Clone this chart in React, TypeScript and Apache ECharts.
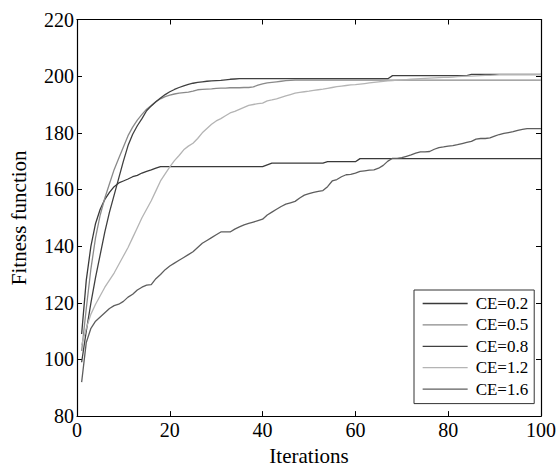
import React, { useEffect, useRef } from "react";
import * as echarts from "echarts";

const seriesNames = ["CE=0.2", "CE=0.5", "CE=0.8", "CE=1.2", "CE=1.6"];

// iterations 1..100
const ce02 = [
  109, 128, 140, 148, 153, 156.5, 159, 161, 162.3, 163,
  163.7, 164.5, 165, 165.8, 166.4, 166.9, 167.5, 168.1, 168.1, 168.1,
  168.1, 168.1, 168.1, 168.1, 168.1, 168.1, 168.1, 168.1, 168.1, 168.1,
  168.1, 168.1, 168.1, 168.1, 168.1, 168.1, 168.1, 168.1, 168.1, 168.1,
  168.7, 169.3, 169.3, 169.3, 169.3, 169.3, 169.3, 169.3, 169.3, 169.3,
  169.3, 169.3, 169.3, 169.8, 169.8, 169.8, 169.8, 169.8, 169.8, 169.8,
  170.9, 170.9, 170.9, 170.9, 170.9, 170.9, 170.9, 170.9, 170.9, 170.9,
  170.9, 170.9, 170.9, 170.9, 170.9, 170.9, 170.9, 170.9, 170.9, 170.9,
  170.9, 170.9, 170.9, 170.9, 170.9, 170.9, 170.9, 170.9, 170.9, 170.9,
  170.9, 170.9, 170.9, 170.9, 170.9, 170.9, 170.9, 170.9, 170.9, 170.9,
];

const ce05 = [
  103, 118, 132, 143, 151, 157, 162, 167, 171, 175,
  179, 182, 184.5, 186.5, 188.3, 189.6, 191, 192, 192.8, 193.3,
  193.7, 194, 194.2, 194.4, 194.7, 195.2, 195.3, 195.4, 195.5, 195.7,
  195.8, 195.8, 195.9, 195.9, 195.9, 196, 196, 196.2, 196.8, 197.3,
  197.6, 197.8, 198, 198.2, 198.4, 198.5, 198.6, 198.6, 198.6, 198.6,
  198.6, 198.6, 198.6, 198.6, 198.6, 198.6, 198.6, 198.6, 198.6, 198.6,
  198.6, 198.6, 198.6, 198.6, 198.6, 198.6, 198.6, 198.6, 198.6, 198.6,
  198.6, 198.6, 198.6, 198.6, 198.6, 198.6, 198.6, 198.6, 198.6, 198.6,
  198.6, 198.6, 198.6, 198.6, 198.6, 198.6, 198.6, 198.6, 198.6, 198.6,
  198.6, 198.6, 198.6, 198.6, 198.6, 198.6, 198.6, 198.6, 198.6, 198.6,
];

const ce08 = [
  99, 110, 120, 129, 137, 145, 152, 158, 164, 170,
  175.5, 179.5, 182.5, 185, 187.8, 189.5, 191, 192.3, 193.5, 194.5,
  195.3, 196, 196.6, 197.1, 197.5, 197.8, 198, 198.2, 198.3, 198.4,
  198.5, 198.7, 198.9, 199, 199.1, 199.1, 199.1, 199.1, 199.1, 199.1,
  199.1, 199.1, 199.1, 199.1, 199.1, 199.1, 199.1, 199.1, 199.1, 199.1,
  199.1, 199.1, 199.1, 199.1, 199.1, 199.1, 199.1, 199.1, 199.1, 199.1,
  199.1, 199.1, 199.1, 199.1, 199.1, 199.1, 199.1, 200.2, 200.2, 200.2,
  200.2, 200.2, 200.2, 200.2, 200.2, 200.2, 200.2, 200.2, 200.2, 200.2,
  200.2, 200.2, 200.2, 200.2, 200.6, 200.6, 200.6, 200.6, 200.6, 200.6,
  200.6, 200.6, 200.6, 200.6, 200.6, 200.6, 200.6, 200.6, 200.6, 200.6,
];

const ce12 = [
  105, 111, 116, 119.5, 122.5, 125.5, 128, 130.5, 133.5, 136.5,
  139.5, 143, 146.5, 150, 153, 156, 159.5, 163, 165.5, 168,
  170.2, 172, 174, 175.3, 176.3, 178, 180, 181.5, 183, 184.2,
  185, 186, 187, 187.6, 188.3, 189, 189.7, 190, 190.3, 190.5,
  191.3, 191.6, 192, 192.5, 193, 193.5, 194, 194.3, 194.5, 194.7,
  195, 195.2, 195.4, 195.7, 196, 196.3, 196.5, 196.7, 196.9, 197,
  197.2, 197.4, 197.6, 197.8, 198, 198.2, 198.3, 198.4, 198.6, 198.7,
  198.8, 198.9, 199, 199.1, 199.2, 199.3, 199.4, 199.5, 199.6, 199.6,
  199.7, 199.8, 199.9, 200, 200, 200.1, 200.2, 200.3, 200.3, 200.4,
  200.5, 200.5, 200.5, 200.5, 200.5, 200.5, 200.5, 200.5, 200.5, 200.5,
];

const ce16 = [
  92, 106, 111, 113.5, 115, 116.5, 118, 119, 119.5, 120.5,
  122, 123, 124.5, 125.5, 126.2, 126.4, 128.5, 130, 131.7, 133,
  134, 135, 136, 137, 138, 139.5, 141, 142, 143, 144,
  145, 145, 145, 146, 146.8, 147.5, 148, 148.5, 149, 149.5,
  151, 152, 153, 154, 154.8, 155.3, 155.8, 157, 158, 158.5,
  159, 159.3, 159.6, 161, 163, 163.5, 164.5, 165.2, 165.3, 165.8,
  166.4, 166.6, 166.8, 166.9, 167.5, 168.5, 170, 171, 171, 171.2,
  171.7, 172.2, 172.8, 173.3, 173.3, 173.4, 174.2, 174.8, 175, 175.3,
  175.5, 175.8, 176.2, 176.6, 177, 177.8, 178, 178, 178.2, 178.8,
  179.4, 179.8, 180.1, 180.4, 180.9, 181.2, 181.5, 181.5, 181.5, 181.5,
];

const xTicks = [0, 20, 40, 60, 80, 100];
const yTicks = [80, 100, 120, 140, 160, 180, 200, 220];

const allValues = [ce02, ce05, ce08, ce12, ce16];
const lineColors = ["#3a3a3a", "#8a8a8a", "#404040", "#b4b4b4", "#5e5e5e"];

const FONT = "Liberation Serif";

export default function App() {
  const ref = useRef<HTMLDivElement>(null);
  useEffect(() => {
    if (!ref.current) return;
    const chart = echarts.init(ref.current, undefined, { renderer: "svg" });
    const axisCommon = {
      axisLine: { show: true, onZero: false, lineStyle: { color: "#000", width: 1.2 } },
      axisTick: { show: true, inside: true, length: 5, lineStyle: { color: "#000", width: 1 } },
      splitLine: { show: false },
    };
    chart.setOption({
      animation: false,
      backgroundColor: "#fff",
      textStyle: { fontFamily: FONT },
      grid: { left: 75, right: 18, top: 19.5, bottom: 50, containLabel: false },
      legend: {
        orient: "vertical",
        left: 414,
        top: 290,
        padding: [5, 6, 6, 8],
        itemWidth: 45,
        itemHeight: 14,
        itemGap: 4.4,
        borderColor: "#333",
        borderWidth: 1,
        backgroundColor: "#fff",
        itemStyle: { opacity: 0 },
        lineStyle: { width: 1.3 },
        textStyle: { fontFamily: FONT, fontSize: 17, color: "#000", padding: [0, 0, 0, 3] },
        data: seriesNames,
      },
      xAxis: [
        {
          type: "value",
          min: xTicks[0],
          max: xTicks[xTicks.length - 1],
          interval: 20,
          name: "Iterations",
          nameLocation: "middle",
          nameGap: 28,
          nameTextStyle: { fontFamily: FONT, fontSize: 21, color: "#000" },
          axisLabel: { fontFamily: FONT, fontSize: 20, color: "#000", margin: 4 },
          ...axisCommon,
        },
        {
          type: "value",
          position: "top",
          min: xTicks[0],
          max: xTicks[xTicks.length - 1],
          interval: 20,
          axisLabel: { show: false },
          ...axisCommon,
        },
      ],
      yAxis: [
        {
          type: "value",
          min: yTicks[0],
          max: yTicks[yTicks.length - 1],
          interval: 20,
          name: "Fitness function",
          nameLocation: "middle",
          nameGap: 48,
          nameTextStyle: { fontFamily: FONT, fontSize: 21, color: "#000" },
          axisLabel: { fontFamily: FONT, fontSize: 20, color: "#000", margin: 3 },
          ...axisCommon,
        },
        {
          type: "value",
          position: "right",
          min: yTicks[0],
          max: yTicks[yTicks.length - 1],
          interval: 20,
          axisLabel: { show: false },
          ...axisCommon,
        },
      ],
      series: allValues.map((vals, k) => ({
        name: seriesNames[k],
        type: "line",
        symbol: "none",
        xAxisIndex: 0,
        yAxisIndex: 0,
        data: vals.map((v, i) => [i + 1, v]),
        lineStyle: { color: lineColors[k], width: 1.3 },
        itemStyle: { color: lineColors[k] },
      })),
    });
    return () => chart.dispose();
  }, []);
  return (
    <div
      ref={ref}
      style={{ position: "fixed", left: 0, top: 0, width: 559, height: 471 }}
    />
  );
}
